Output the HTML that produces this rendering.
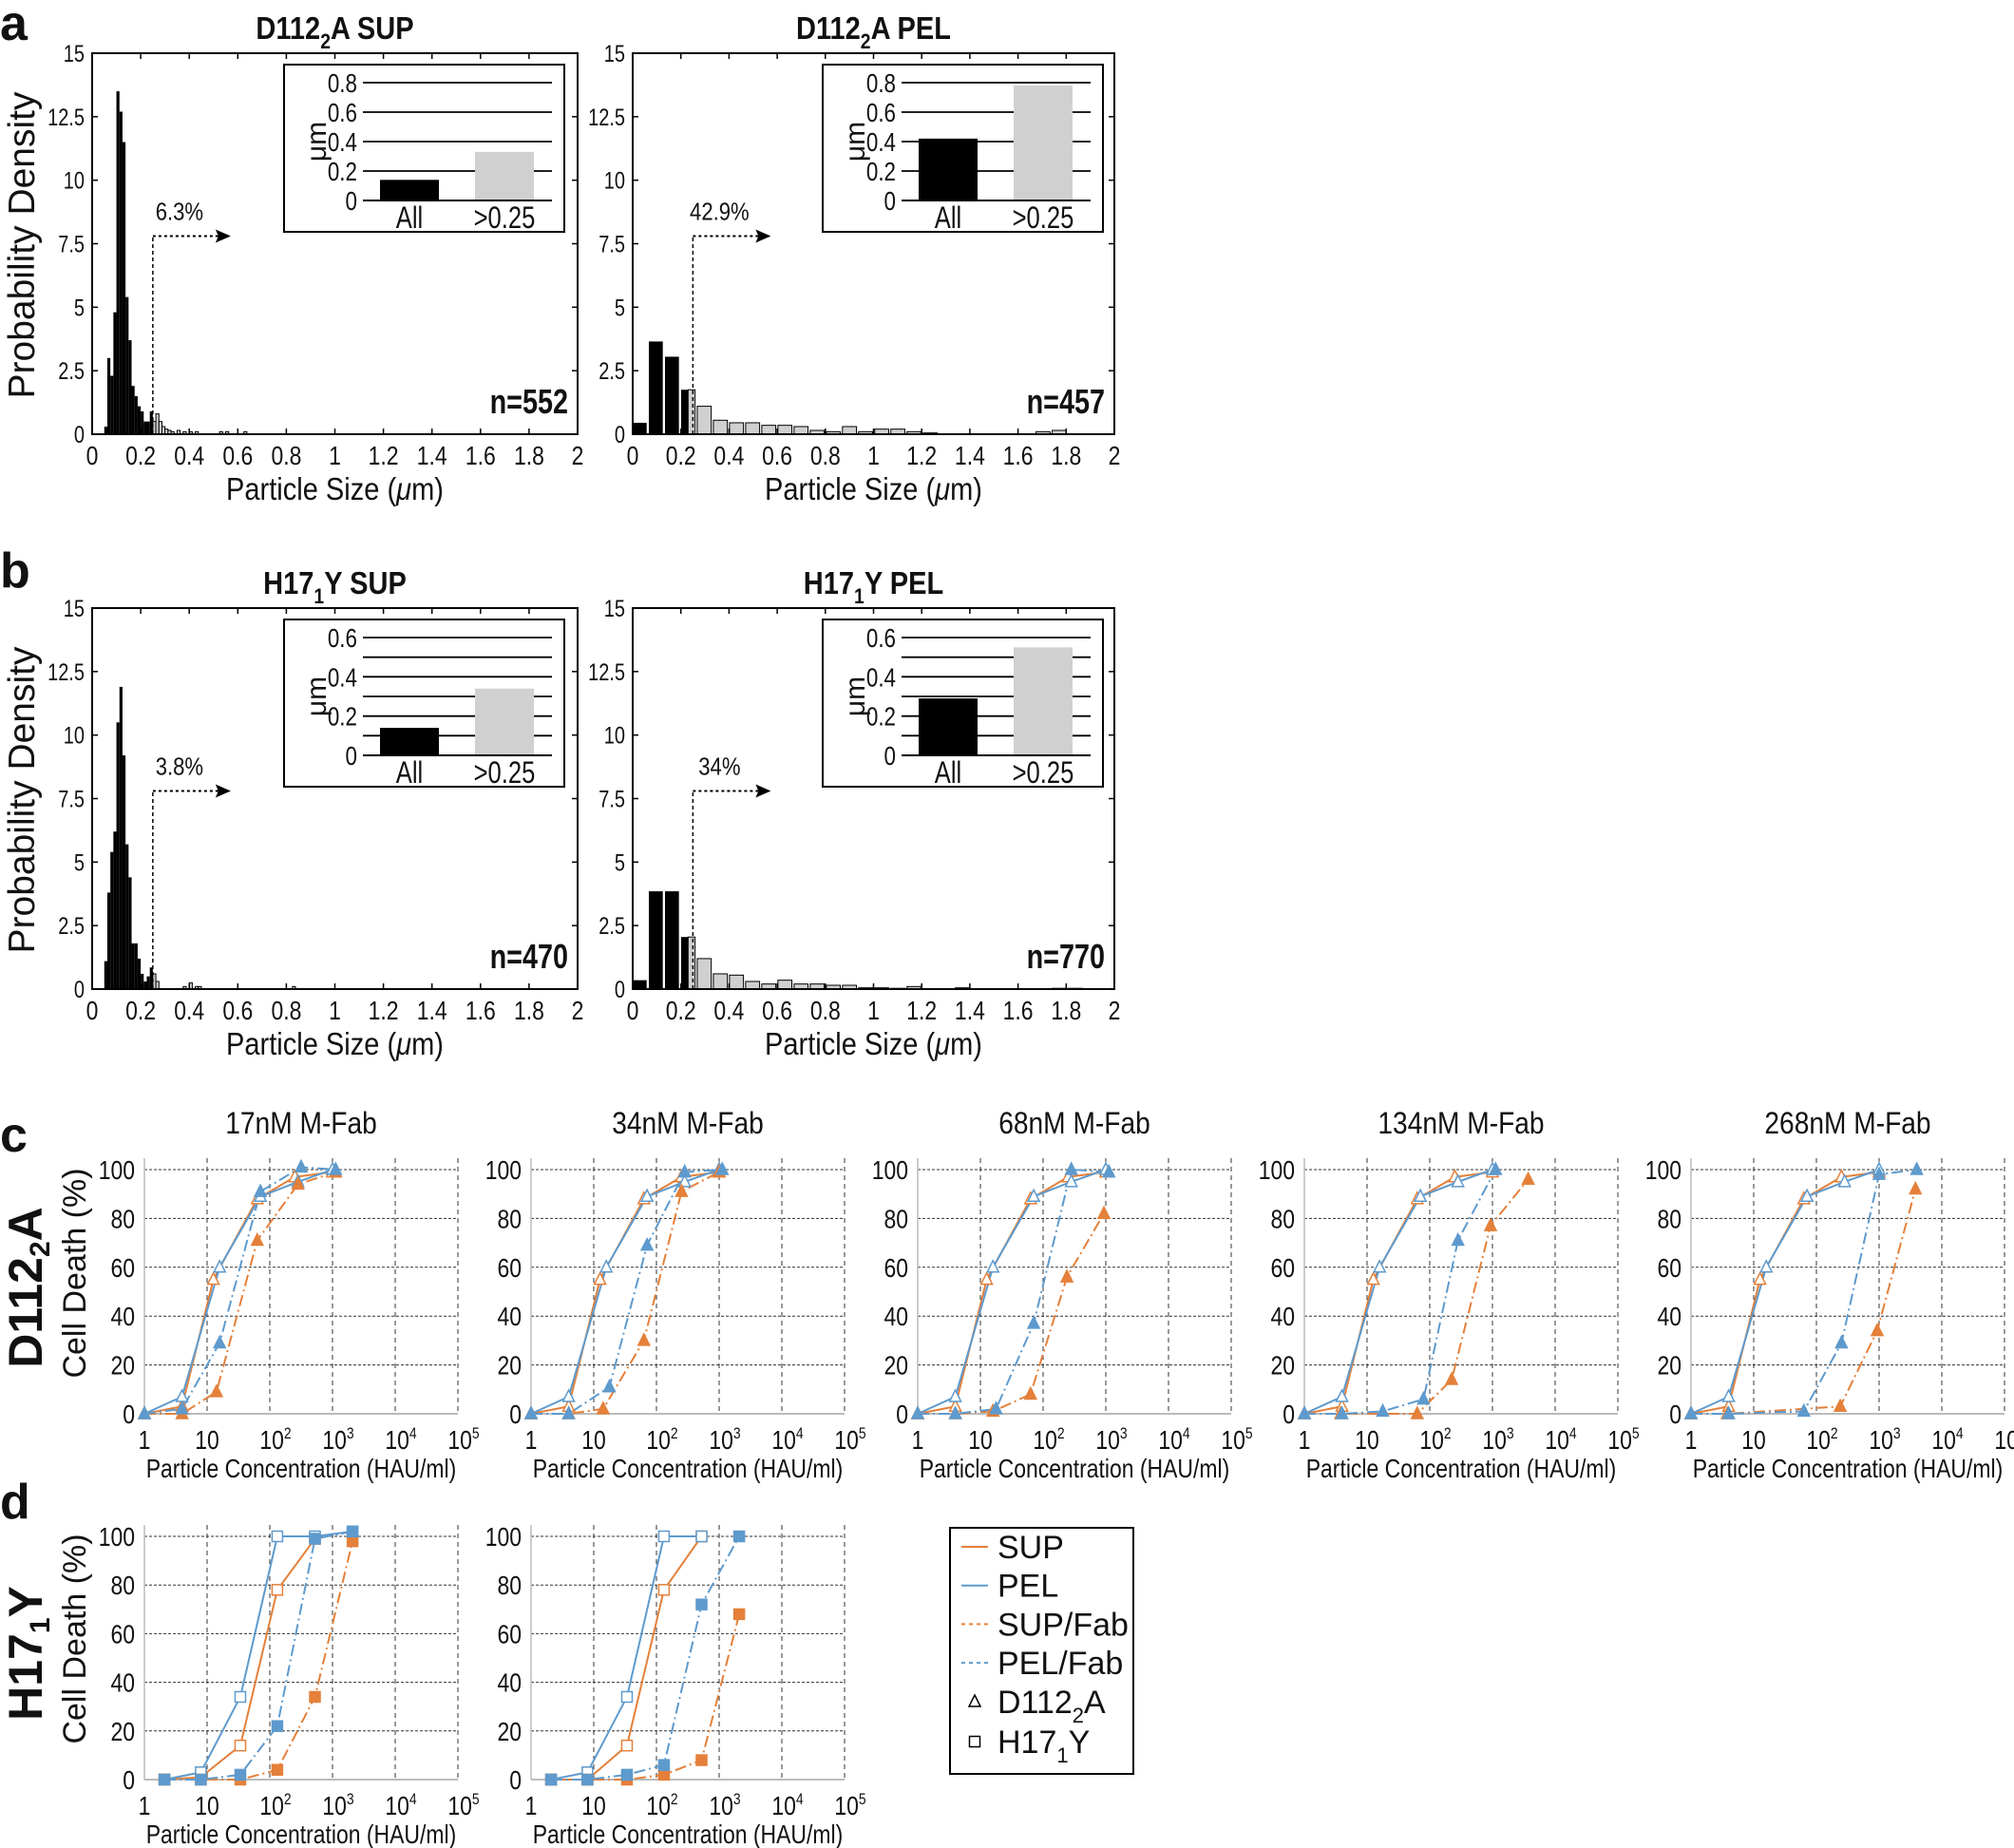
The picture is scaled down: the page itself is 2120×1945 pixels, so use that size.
<!DOCTYPE html>
<html><head><meta charset="utf-8"><style>
html,body{margin:0;padding:0;background:#fff;}
svg{display:block;font-family:"Liberation Sans",Arial,sans-serif;}
</style></head><body>
<svg id="s" width="2120" height="1945" viewBox="0 0 2120 1945" xmlns="http://www.w3.org/2000/svg"></svg>
<script>
const S=document.getElementById('s');let h='';
const OR='#e4803a',BL='#5e9acd';
function t(x,y,s,sz,o){o=o||{};h+=`<text x="${x}" y="${y}" font-size="${sz}" text-anchor="${o.a||'start'}" ${o.b?'font-weight="bold"':''} fill="${o.f||'#111'}" ${o.tr?`transform="${o.tr}"`:''} ${o.sx?`transform="translate(${x} ${y}) scale(${o.sx} 1) translate(${-x} ${-y})"`:''}>${s}</text>`;}
function L(x1,y1,x2,y2,c,w,d){h+=`<line x1="${x1}" y1="${y1}" x2="${x2}" y2="${y2}" stroke="${c||'#000'}" stroke-width="${w||1}" ${d?`stroke-dasharray="${d}"`:''}/>`;}
function R(x,y,w,hh,f,st){h+=`<rect x="${x}" y="${y}" width="${w}" height="${hh}" fill="${f}" ${st?`stroke="${st}" stroke-width="1"`:''}/>`;}
t(0,42,'a',52,{b:1});t(0,618,'b',52,{b:1});t(0,1212,'c',52,{b:1});t(0,1598,'d',52,{b:1});
function hist(X0,X1,Y0,Y1,title,bars,pct,n,inset){
 const sx=v=>X0+(X1-X0)*v/2, sy=v=>Y1-(Y1-Y0)*v/15;
 t((X0+X1)/2,Y0-15,title,33,{a:'middle',b:1,sx:0.88});
 bars.forEach(b=>{const x=sx(b[0]),w=sx(b[0]+b[1])-x;
  if(b[3]){R(x,sy(b[2]),w/2,Y1-sy(b[2]),'#000');R(x+w/2,sy(b[2]),w/2,Y1-sy(b[2]),'#d0d0d0','#000');}
  else R(x,sy(b[2]),w,Y1-sy(b[2]),b[0]>=0.25?'#d0d0d0':'#000',b[0]>=0.25?'#000':null);});
 h+=`<rect x="${X0}" y="${Y0}" width="${X1-X0}" height="${Y1-Y0}" fill="none" stroke="#000" stroke-width="2"/>`;
 for(let i=0;i<=6;i++){const y=sy(i*2.5);L(X0,y,X0+6,y,'#000',1.5);L(X1,y,X1-6,y,'#000',1.5);
  t(X0-8,y+9,String(i*2.5),25,{a:'end',sx:0.8});}
 for(let i=0;i<=10;i++){const x=sx(i*0.2);L(x,Y1,x,Y1-6,'#000',1.5);L(x,Y0,x,Y0+6,'#000',1.5);
  t(x,Y1+32,String(+(i*0.2).toFixed(1)),28,{a:'middle',sx:0.82});}
 t((X0+X1)/2,Y1+69,'Particle Size (<tspan font-style="italic">μ</tspan>m)',33,{a:'middle',sx:0.88});
 const ax=sx(0.25),ay=sy(7.8);
 L(ax,Y1,ax,ay,'#000',1.5,'4 3');L(ax,ay,ax+70,ay,'#000',2,'3 3');
 h+=`<path d="M${ax+82} ${ay} L${ax+66} ${ay-7} L${ax+69} ${ay} L${ax+66} ${ay+7}Z" fill="#000"/>`;
 t(ax+28,ay-17,pct,26,{a:'middle',sx:0.85});
 t(X1-10,Y1-22,n,36,{a:'end',b:1,sx:0.8});
 const [ix0,iy0,ix1,iy1,max,step,lab,v1,v2,ty]=inset;
 R(ix0,iy0,ix1-ix0,iy1-iy0,'#fff','#000');h+=`<rect x="${ix0}" y="${iy0}" width="${ix1-ix0}" height="${iy1-iy0}" fill="none" stroke="#000" stroke-width="2"/>`;
 const a0=ix0+83,a1=ix0+282,yt=ty[0],yb=ty[1],isy=v=>yb-(yb-yt)*v/max;
 for(let v=0;v<=max+1e-9;v+=step){L(a0,isy(v),a1,isy(v),'#000',1.8);}
 lab.forEach(v=>t(a0-6,isy(v)+10,String(v),28,{a:'end',sx:0.8}));
 R(ix0+101,isy(v1),62,yb-isy(v1),'#000');R(ix0+201,isy(v2),62,yb-isy(v2),'#d0d0d0');
 L(a0,yb,a1,yb,'#000',2);
 t(ix0+132,iy1-4,'All',32,{a:'middle',sx:0.8});t(ix0+232,iy1-4,'&gt;0.25',32,{a:'middle',sx:0.8});
 t(0,0,'μm',30,{a:'middle',tr:`translate(${ix0+44} ${(yt+yb)/2}) rotate(-90)`});
}
function narrow(arr){return arr.map(a=>[a[0],0.0125,a[1]]);}
const aL=narrow([[0.05,0.3],[0.0625,3.0],[0.075,2.3],[0.0875,4.8],[0.1,13.5],[0.1125,12.7],[0.125,11.5],[0.1375,5.4],[0.15,3.7],[0.1625,1.9],[0.175,1.5],[0.1875,1.1],[0.2,0.9],[0.2125,0.5],[0.225,0.5],[0.2375,0.9],[0.25,0.5],[0.2625,0.8],[0.275,0.5],[0.2875,0.3],[0.3,0.2],[0.3125,0.15],[0.325,0.1],[0.35,0.15],[0.375,0.1],[0.4,0.1],[0.425,0.1],[0.525,0.1],[0.55,0.1],[0.625,0.1]]);
const bL=narrow([[0.05,1.1],[0.0625,3.8],[0.075,5.4],[0.0875,6.2],[0.1,10.5],[0.1125,11.9],[0.125,9.2],[0.1375,5.7],[0.15,4.4],[0.1625,1.8],[0.175,1.8],[0.1875,1.2],[0.2,0.6],[0.2125,0.3],[0.225,0.5],[0.2375,0.85],[0.25,0.6],[0.2625,0.3],[0.375,0.1],[0.4,0.25],[0.425,0.1],[0.4375,0.1],[0.825,0.1]]);
function wide(hs){return hs.map((v,i)=>[i*0.067,0.058,v,i==3?1:0]).filter(b=>b[2]>0).map(b=>{if(b[3]==0&&b[0]>0.2)b[0]=Math.max(b[0],0.25);return b;});}
const aR=wide([0.45,3.65,3.05,1.75,1.1,0.55,0.45,0.45,0.35,0.35,0.3,0.15,0.1,0.3,0.1,0.2,0.2,0.1,0.05,0,0,0,0,0,0,0.1,0.15]);
const bR=wide([0.35,3.85,3.85,2.05,1.2,0.6,0.55,0.3,0.2,0.35,0.2,0.2,0.15,0.15,0.05,0.05,0.03,0.1,0,0,0.05,0,0,0,0,0,0.03,0.03]);
hist(97,608,56,457,'D112<tspan font-size="22" dy="10">2</tspan><tspan dy="-10">A SUP</tspan>',aL,'6.3%','n=552',[299,68,594,244,0.8,0.2,[0,0.2,0.4,0.6,0.8],0.14,0.33,[87,211]]);
hist(666,1173,56,457,'D112<tspan font-size="22" dy="10">2</tspan><tspan dy="-10">A PEL</tspan>',aR,'42.9%','n=457',[866,68,1161,244,0.8,0.2,[0,0.2,0.4,0.6,0.8],0.42,0.78,[87,211]]);
hist(97,608,640,1041,'H17<tspan font-size="22" dy="10">1</tspan><tspan dy="-10">Y SUP</tspan>',bL,'3.8%','n=470',[299,652,594,828,0.6,0.1,[0,0.2,0.4,0.6],0.14,0.34,[671,795]]);
hist(666,1173,640,1041,'H17<tspan font-size="22" dy="10">1</tspan><tspan dy="-10">Y PEL</tspan>',bR,'34%','n=770',[866,652,1161,828,0.6,0.1,[0,0.2,0.4,0.6],0.29,0.55,[671,795]]);
t(0,0,'Probability Density',39,{a:'middle',tr:'translate(36 258) rotate(-90)'});
t(0,0,'Probability Density',39,{a:'middle',tr:'translate(36 842) rotate(-90)'});
function tri(x,y,c,fill){h+=`<path d="M${x} ${y-7} L${x+6} ${y+5} L${x-6} ${y+5}Z" fill="${fill?c:'#fff'}" stroke="${c}" stroke-width="1.5"/>`;}
function sq(x,y,c,fill){h+=`<rect x="${x-5.5}" y="${y-5.5}" width="11" height="11" fill="${fill?c:'#fff'}" stroke="${c}" stroke-width="1.5"/>`;}
function dr(X0,Y100,Y0,title,series,mk){
 const W=330,sx=v=>X0+v*W/5,sy=v=>Y0-(Y0-Y100)*v/100,top=Y100-12;
 if(title)t(X0+W/2,Y100-38,title,32,{a:'middle',sx:0.88});
 for(let i=1;i<=5;i++)L(sx(i),top,sx(i),Y0,'#333',1,'5 4');
 for(let v=20;v<=100;v+=20)L(X0,sy(v),X0+W,sy(v),'#333',1,'3 2');
 L(X0,top,X0,Y0,'#bbb',1.5);L(X0,Y0,X0+W,Y0,'#bbb',2);
 for(let v=0;v<=100;v+=20)t(X0-10,sy(v)+10,String(v),28,{a:'end',sx:0.82});
 const xl=['1','10','10<tspan font-size="17" dy="-11">2</tspan>','10<tspan font-size="17" dy="-11">3</tspan>','10<tspan font-size="17" dy="-11">4</tspan>','10<tspan font-size="17" dy="-11">5</tspan>'];
 xl.forEach((s,i)=>t(sx(i)+(i>1?6:0),Y0+37,s,28,{a:'middle',sx:0.82}));
 t(X0+W/2,Y0+67,'Particle Concentration (HAU/ml)',28,{a:'middle',sx:0.82});
 series.forEach(s=>{const [c,dash,fill,pts]=s;
  h+=`<polyline points="${pts.map(p=>sx(p[0])+','+sy(p[1])).join(' ')}" fill="none" stroke="${c}" stroke-width="2" ${dash?'stroke-dasharray="12 4 2 4"':''}/>`;});
 series.forEach(s=>{const [c,dash,fill,pts]=s;pts.forEach(p=>mk(sx(p[0]),sy(p[1]),c,fill));});
}
const supS=[[0,0],[0.6,3],[1.1,55],[1.8,88],[2.4,97],[3,99]];
const pelS=[[0,0],[0.6,7],[1.2,60],[1.85,89],[2.45,95],[3,100]];
const C=[
 [[0,0],[0.6,0],[1.15,9],[1.8,71],[2.45,94],[3.05,99]],[[0,0],[0.6,2],[1.2,29],[1.85,91],[2.5,101],[3.05,100]],
 [[0,0],[0.6,0],[1.15,2],[1.8,30],[2.4,91],[3,99]],[[0,0],[0.6,0],[1.25,11],[1.85,69],[2.45,99],[3.05,100]],
 [[0,0],[0.6,0],[1.2,1],[1.8,8],[2.38,56],[2.97,82]],[[0,0],[0.6,0],[1.25,2],[1.85,37],[2.45,100],[3.05,99]],
 [[0,0],[0.58,0],[1.8,0],[2.35,14],[2.97,77],[3.57,96]],[[0,0],[0.6,0],[1.25,1],[1.9,6],[2.45,71],[3.05,100]],
 [[0,0],[0.58,0],[2.38,3],[2.97,34],[3.58,92]],[[0,0],[0.6,0],[1.8,1],[2.4,29],[3,98],[3.6,100]]];
const titles=['17nM M-Fab','34nM M-Fab','68nM M-Fab','134nM M-Fab','268nM M-Fab'];
for(let i=0;i<5;i++)dr(152+407*i,1231,1488,titles[i],[[OR,0,0,supS],[BL,0,0,pelS],[OR,1,1,C[2*i]],[BL,1,1,C[2*i+1]]],tri);
const dx=[0.32,0.9,1.53,2.12,2.72,3.32];
const mkp=a=>a.map((v,i)=>[dx[i],v]);
dr(152,1617,1873,null,[[OR,0,0,mkp([0,1,14,78,99])],[BL,0,0,mkp([0,3,34,100,100,102])],[OR,1,1,mkp([0,0,0,4,34,98])],[BL,1,1,mkp([0,0,2,22,99,102])]],sq);
dr(559,1617,1873,null,[[OR,0,0,mkp([0,0,14,78,100])],[BL,0,0,mkp([0,3,34,100,100])],[OR,1,1,mkp([0,0,0,2,8,68])],[BL,1,1,mkp([0,0,2,6,72,100])]],sq);
t(0,0,'D112<tspan font-size="30" dy="8">2</tspan><tspan dy="-8">A</tspan>',50,{a:'middle',b:1,tr:'translate(44 1355) rotate(-90)'});
t(0,0,'Cell Death (%)',34,{a:'middle',tr:'translate(90 1340) rotate(-90)'});
t(0,0,'H17<tspan font-size="30" dy="8">1</tspan><tspan dy="-8">Y</tspan>',50,{a:'middle',b:1,tr:'translate(44 1740) rotate(-90)'});
t(0,0,'Cell Death (%)',34,{a:'middle',tr:'translate(90 1725) rotate(-90)'});
h+=`<rect x="1000" y="1608" width="193" height="259" fill="#fff" stroke="#000" stroke-width="2"/>`;
const le=[['SUP',OR,0],['PEL',BL,0],['SUP/Fab',OR,1],['PEL/Fab',BL,1]];
le.forEach((e,i)=>{const y=1640+i*40.7;L(1012,y-12,1040,y-12,e[1],2,e[2]?'4 4':null);t(1050,y,e[0],34);});
tri(1026,1791,'#000',0);t(1050,1803,'D112<tspan font-size="22" dy="10">2</tspan><tspan dy="-10">A</tspan>',34);
sq(1026,1833,'#000',0);t(1050,1845,'H17<tspan font-size="22" dy="10">1</tspan><tspan dy="-10">Y</tspan>',34);
S.innerHTML=h;
</script>
</body></html>
